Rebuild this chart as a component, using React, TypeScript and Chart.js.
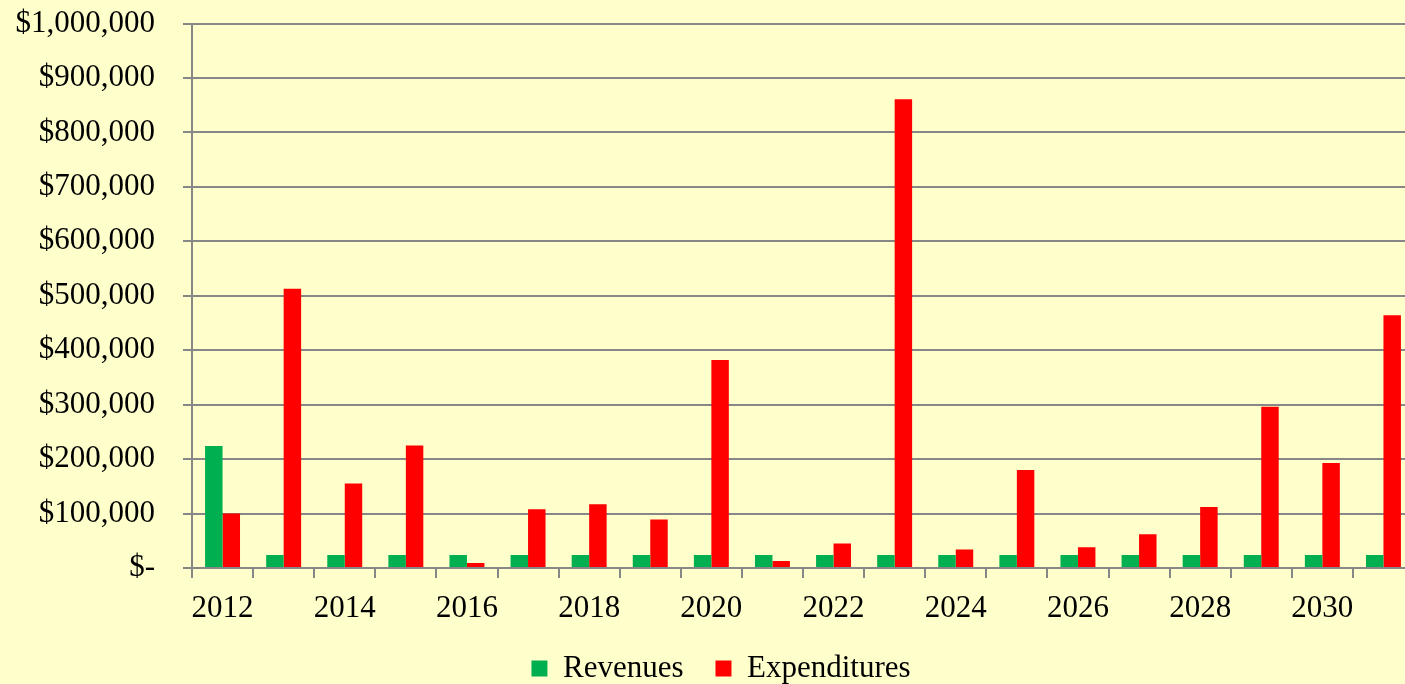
import React, { useEffect, useRef } from "react";
import { Chart, registerables } from "chart.js";

Chart.register(...registerables);

const years: string[] = [
  "2012", "2013", "2014", "2015", "2016", "2017", "2018", "2019", "2020", "2021",
  "2022", "2023", "2024", "2025", "2026", "2027", "2028", "2029", "2030", "2031",
];

const revenues: number[] = [
  224000, 24000, 24000, 24000, 24000, 24000, 24000, 24000, 24000, 24000,
  24000, 24000, 24000, 24000, 24000, 24000, 24000, 24000, 24000, 24000,
];

const expenditures: number[] = [
  100000, 513000, 155000, 225000, 9000, 108000, 117000, 89000, 382000, 13000,
  45000, 861000, 34000, 180000, 38000, 62000, 112000, 296000, 193000, 464000,
];

const yTicks = { min: 0, max: 1000000, step: 100000 };

const BG = "#FFFFCC";
const GRID = "#878787";
const FONT = "'Liberation Serif', 'Times New Roman', serif";

const bgPlugin = {
  id: "bgFill",
  beforeDraw(chart: any) {
    const { ctx, width, height } = chart;
    ctx.save();
    ctx.fillStyle = BG;
    ctx.fillRect(0, 0, width, height);
    ctx.restore();
  },
};

const legendShift = {
  id: "legendShift",
  afterLayout(chart: any) {
    const l = chart.legend;
    if (l) {
      l.left += 14;
      l.right += 14;
      l.top += 2;
      l.bottom += 2;
    }
  },
};

const fmt = (v: number) => (v === 0 ? "$-" : "$" + v.toLocaleString("en-US"));

export default function App() {
  const ref = useRef<HTMLCanvasElement | null>(null);

  useEffect(() => {
    document.body.style.background = BG;
    document.body.style.overflow = "hidden";
    if (!ref.current) return;
    const chart = new Chart(ref.current, {
      type: "bar",
      data: {
        labels: years,
        datasets: [
          {
            label: "Revenues",
            data: revenues,
            backgroundColor: "#00B050",
            borderWidth: 0,
            categoryPercentage: 0.572,
            barPercentage: 1,
          },
          {
            label: "Expenditures",
            data: expenditures,
            backgroundColor: "#FF0000",
            borderWidth: 0,
            categoryPercentage: 0.572,
            barPercentage: 1,
          },
        ],
      },
      options: {
        responsive: false,
        animation: false,
        layout: { padding: { top: 23.5, left: 0, right: 0, bottom: 0 } },
        font: { family: FONT, size: 31 },
        plugins: {
          legend: {
            position: "bottom",
            labels: {
              font: { family: FONT, size: 31 },
              color: "#000",
              boxWidth: 16,
              boxHeight: 16,
              padding: 32,
            },
          },
          tooltip: { enabled: false },
        },
        scales: {
          x: {
            offset: true,
            grid: {
              display: true,
              drawOnChartArea: false,
              drawTicks: true,
              tickLength: 10,
              offset: true,
              color: GRID,
              lineWidth: 2,
            },
            border: { display: true, color: GRID, width: 2 },
            ticks: {
              autoSkip: false,
              maxRotation: 0,
              minRotation: 0,
              padding: 12,
              color: "#000",
              font: { family: FONT, size: 31 },
              callback: (_v: any, i: number) => (i % 2 === 0 ? years[i] : ""),
            },
            afterFit: (s: any) => {
              s.height = 51;
              s.paddingLeft = 0;
              s.paddingRight = 0;
            },
          },
          y: {
            min: yTicks.min,
            max: yTicks.max,
            grid: {
              color: GRID,
              lineWidth: 2,
              drawTicks: true,
              tickLength: 9,
            },
            border: { display: true, color: GRID, width: 2 },
            ticks: {
              stepSize: yTicks.step,
              padding: 28,
              color: "#000",
              font: { family: FONT, size: 31 },
              callback: (v: any) => fmt(Number(v)),
            },
            afterFit: (s: any) => {
              s.width = 192;
              s.paddingTop = 0;
              s.paddingBottom = 0;
            },
          },
        },
      },
      plugins: [bgPlugin, legendShift],
    });
    return () => chart.destroy();
  }, []);

  return (
    <div style={{ position: "fixed", left: 0, top: 0, width: 1414, height: 692 }}>
      <canvas ref={ref} width={1414} height={692} style={{ display: "block" }} />
    </div>
  );
}
